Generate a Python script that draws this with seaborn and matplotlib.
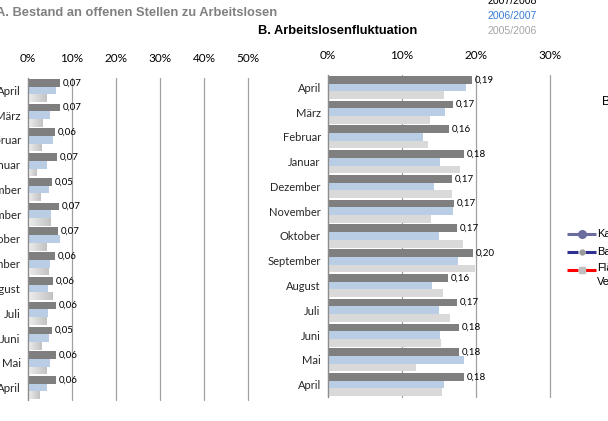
import numpy as np
import pandas as pd
import matplotlib
matplotlib.use("Agg")
import matplotlib.pyplot as plt
import seaborn as sns
from matplotlib.lines import Line2D
from matplotlib.colors import LinearSegmentedColormap

# ---------------- data ----------------
periods = ["04/2008", "03/2008", "02/2008", "01/2008", "12/2007", "11/2007", "10/2007",
           "09/2007", "08/2007", "07/2007", "06/2007", "05/2007", "04/2007"]
months = ["April", "März", "Februar", "Januar", "Dezember", "November", "Oktober",
          "September", "August", "Juli", "Juni", "Mai", "April"]
seasons = ["2007/2008", "2006/2007", "2005/2006"]

# A. Bestand an offenen Stellen zu Arbeitslosen
a_0708 = [0.073, 0.073, 0.062, 0.067, 0.054, 0.071, 0.069, 0.062, 0.058, 0.064, 0.054, 0.064, 0.064]
a_0607 = [0.064, 0.051, 0.058, 0.044, 0.048, 0.053, 0.073, 0.051, 0.046, 0.046, 0.048, 0.051, 0.044]
a_0506 = [0.043, 0.033, 0.030, 0.019, 0.028, 0.051, 0.042, 0.046, 0.055, 0.042, 0.030, 0.042, 0.026]

# B. Arbeitslosenfluktuation
b_0708 = [0.194, 0.169, 0.163, 0.184, 0.168, 0.170, 0.174, 0.196, 0.162, 0.174, 0.177, 0.177, 0.184]
b_0607 = [0.186, 0.158, 0.128, 0.151, 0.143, 0.169, 0.150, 0.176, 0.141, 0.150, 0.151, 0.184, 0.157]
b_0506 = [0.157, 0.138, 0.135, 0.178, 0.168, 0.139, 0.182, 0.199, 0.155, 0.165, 0.153, 0.119, 0.154]

xticks_a = [0.0, 0.1, 0.2, 0.3, 0.4, 0.5]
xticks_b = [0.0, 0.1, 0.2, 0.3]

legend_right = ["Karlsruhe", "Baden-Württemberg", "Flächenländer\nVergleich"]

# ---------------- style ----------------
sns.set_style("white")
LAB = ["Lato", "DejaVu Sans"]
ARIAL = ["Liberation Sans", "DejaVu Sans"]
plt.rcParams["font.family"] = LAB

palette = {"2007/2008": "#7f7f7f", "2006/2007": "#b9cde5", "2005/2006": "#d9d9d9"}


def long_df(s1, s2, s3):
    rows = []
    for name, vals in zip(seasons, [s1, s2, s3]):
        for p, v in zip(periods, vals):
            rows.append({"period": p, "season": name, "value": v})
    return pd.DataFrame(rows)


dfA = long_df(a_0708, a_0607, a_0506)
dfB = long_df(b_0708, b_0607, b_0506)

W, H = 608, 421
fig = plt.figure(figsize=(W / 100, H / 100), dpi=100)
axA = fig.add_axes([27.7 / W, 21 / H, 220.6 / W, 322 / H])
axB = fig.add_axes([327.7 / W, 24 / H, 222.6 / W, 322 / H])


def style_axis(ax, df, xt, top_vals, gradient=False, ylab_size=8):
    sns.barplot(data=df, x="value", y="period", hue="season", order=periods,
                hue_order=seasons, palette=palette, width=0.93, gap=0,
                saturation=1, errorbar=None, legend=False, ax=ax,
                edgecolor="none", linewidth=0)
    ax.set_xlim(xt[0], xt[-1])
    ax.set_ylim(len(periods) - 0.5, -0.5)
    if gradient:
        cmap = LinearSegmentedColormap.from_list("g", ["#eeeeee", "#c2c2c2"])
        grad = np.linspace(0, 1, 128).reshape(1, -1)
        for p in ax.containers[2]:
            x0, y0 = p.get_x(), p.get_y()
            w, h = p.get_width(), p.get_height()
            im = ax.imshow(grad, extent=[x0, x0 + w, y0 + h, y0], aspect="auto",
                           cmap=cmap, zorder=p.get_zorder() + 0.1, interpolation="bilinear")
            im.set_clip_path(p)
        ax.set_xlim(xt[0], xt[-1])
        ax.set_ylim(len(periods) - 0.5, -0.5)
    ax.set_xticks(xt)
    ax.set_xticklabels([f"{v:.0%}" for v in xt])
    ax.xaxis.tick_top()
    ax.tick_params(axis="x", length=0, pad=10, labelsize=8.5, colors="#000000")
    ax.set_yticks(range(len(periods)))
    ax.set_yticklabels(months)
    ax.tick_params(axis="y", length=0, pad=5, labelsize=ylab_size)
    ax.set_xlabel("")
    ax.set_ylabel("")
    ax.grid(axis="x", color="#a0a0a0", lw=0.9)
    ax.grid(axis="y", visible=False)
    for gl in ax.get_xgridlines():
        gl.set_clip_on(False)
    ax.set_axisbelow(True)
    for s in ["top", "right", "bottom"]:
        ax.spines[s].set_visible(False)
    ax.spines["left"].set_color("#8c8c8c")
    ax.spines["left"].set_linewidth(0.9)
    ax.patch.set_alpha(0)
    ax.bar_label(ax.containers[0],
                 labels=[f"{v:.2f}".replace(".", ",") for v in top_vals],
                 padding=2, fontsize=7, color="#000000")


style_axis(axA, dfA, xticks_a, a_0708, gradient=True, ylab_size=8.3)
style_axis(axB, dfB, xticks_b, b_0708)

# titles
fig.text(-4 / W, 1 - 13 / H, "A. Bestand an offenen Stellen zu Arbeitslosen",
         color="#808080", fontweight="bold", fontsize=9.3, family=ARIAL,
         ha="left", va="center")
fig.text(258 / W, 1 - 31 / H, "B. Arbeitslosenfluktuation",
         color="#000000", fontweight="bold", fontsize=9.3, family=ARIAL,
         ha="left", va="center")

# season legend (top right)
for lab, col, yy in zip(seasons, ["#000000", "#3b7dd8", "#a6a6a6"], [1, 16, 31]):
    fig.text(487 / W, 1 - yy / H, lab, color=col, fontsize=7.6, family=ARIAL,
             ha="left", va="center")

# partial legend of neighbouring chart (right)
fig.text(602 / W, 1 - 102 / H, "B", color="#000000", fontsize=9, family=ARIAL,
         ha="left", va="center")
leg_specs = [
    dict(color="#6b6d9f", split=False, mk="o", mc="#6b6d9f", ms=5.5, y=234),
    dict(color="#2e3192", split=True, mk="o", mc="#9a9a9a", ms=3.5, y=252),
    dict(color="#ff0000", split=True, mk="s", mc="#c0c0c0", ms=4, y=270),
]
for spec, lab in zip(leg_specs, legend_right):
    yy = 1 - spec["y"] / H
    if spec["split"]:
        segs = [(567, 578), (585, 596)]
    else:
        segs = [(567, 596)]
    for a, b in segs:
        fig.add_artist(Line2D([a / W, b / W], [yy, yy], color=spec["color"],
                              ls="-", lw=2.2, solid_capstyle="butt",
                              transform=fig.transFigure))
    fig.add_artist(Line2D([581.5 / W], [yy], marker=spec["mk"], color=spec["mc"],
                          ms=spec["ms"], lw=0, transform=fig.transFigure))
    fig.text(597 / W, yy + (7 / H if "\n" in lab else 0), lab, fontsize=8, family=ARIAL,
             ha="left", va="top" if "\n" in lab else "center",
             color="#000000", linespacing=1.5)

fig.savefig("out.png", dpi=100)
